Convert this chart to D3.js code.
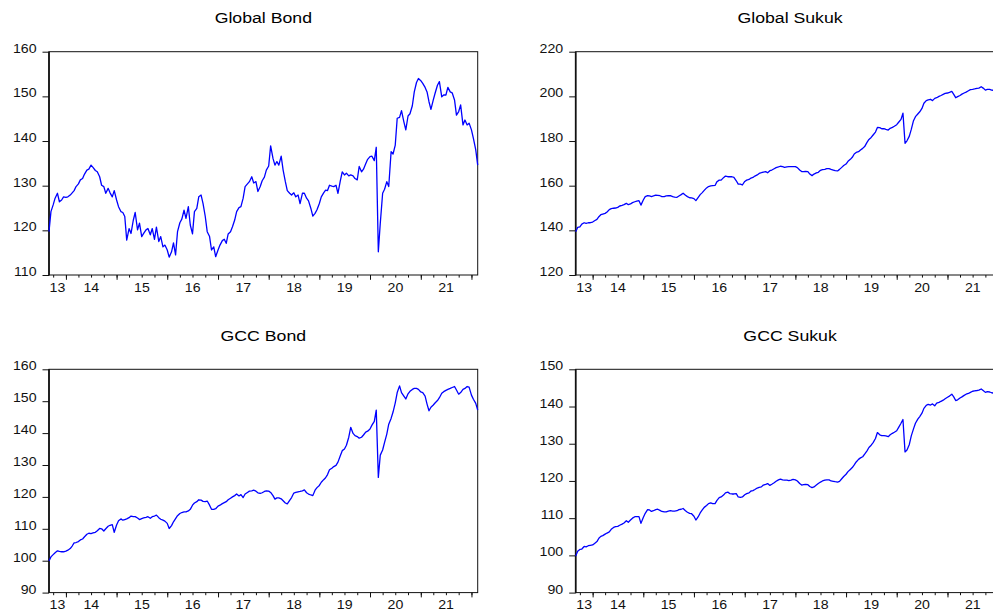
<!DOCTYPE html>
<html>
<head>
<meta charset="utf-8">
<script src="https://cdn.jsdelivr.net/npm/d3@7"></script>
<style>
  html, body { margin: 0; padding: 0; background: #fff; }
  svg { display: block; }
  text { font-family: "Liberation Sans", Arial, sans-serif; fill: #111; }
</style>
</head>
<body>
<svg id="chart" width="993" height="612"></svg>
<script>
// Semi-monthly observation dates (1st and 15th), Sep 2013 - Feb 2022
const startDate = Date.UTC(2013, 8, 1);
const endDate = Date.UTC(2022, 1, 15);
const dates = [];
for (let d = new Date(startDate); d <= endDate; d = new Date(Date.UTC(d.getUTCFullYear(), d.getUTCMonth() + 1, 1))) {
  dates.push(new Date(d));
  dates.push(new Date(Date.UTC(d.getUTCFullYear(), d.getUTCMonth(), 15)));
}

const panelTitles = ["Global Bond", "Global Sukuk", "GCC Bond", "GCC Sukuk"];

const globalBond = [
  119.7,124.2,125.7,127.2,128.3,126.4,126.8,127.5,127.4,127.5,
  127.9,128.4,128.9,129.8,130.4,131.3,131.6,132.6,133.5,133.7,
  134.6,134.1,133.4,133.1,132.0,130.1,129.8,128.3,129.4,128.4,
  127.5,128.9,126.8,125.3,124.2,124.0,123.1,117.8,120.4,119.3,
  122.2,124.0,120.1,121.6,118.6,119.3,120.1,120.4,119.0,120.4,
  118.0,120.7,117.5,118.6,116.3,116.7,115.6,114.0,115.2,117.2,
  114.5,119.7,121.7,122.5,124.5,122.7,125.3,121.2,119.2,124.2,
  124.9,127.5,127.9,126.0,123.1,119.7,118.6,115.6,116.3,114.1,
  115.6,116.7,117.7,118.0,117.1,119.2,119.7,120.8,122.3,124.2,
  125.1,125.3,127.2,129.8,130.4,130.9,132.0,130.6,130.9,128.7,
  129.8,131.1,131.9,133.5,134.4,138.9,136.1,134.6,135.4,134.6,
  136.6,133.5,130.9,128.9,128.3,127.9,128.4,127.5,127.9,126.0,
  128.3,128.3,127.2,126.6,124.9,123.2,123.8,124.6,126.0,127.5,
  128.4,129.0,128.9,130.1,129.9,129.8,130.1,128.3,131.1,133.1,
  132.4,132.8,132.2,132.4,132.2,131.6,131.3,134.3,133.1,133.7,
  134.9,135.9,136.5,136.6,135.6,138.6,115.2,121.6,128.3,129.2,
  130.9,129.8,137.6,137.1,139.1,145.1,145.3,146.8,144.3,142.5,
  145.6,146.1,147.9,151.0,153.1,154.0,153.5,152.9,152.0,151.0,
  148.8,147.1,149.2,150.8,152.5,153.3,149.9,150.3,150.3,152.0,
  151.0,150.8,149.2,145.8,146.6,148.1,143.6,144.7,143.6,144.0,
  142.5,140.6,138.0,134.6
];

const globalSukuk = [
  139.4,141.3,141.6,142.8,143.4,143.1,143.4,143.4,143.7,144.3,
  144.9,146.1,147.0,147.3,147.6,148.2,149.3,149.7,149.9,150.0,
  150.3,150.9,151.2,151.5,152.1,151.5,151.8,152.4,152.8,153.1,
  153.3,151.3,153.6,155.1,155.5,155.4,155.1,155.4,155.8,155.7,
  155.5,155.1,155.1,155.4,155.5,155.5,155.1,154.9,154.8,155.4,
  156.0,156.6,155.7,155.1,154.6,154.5,154.2,153.3,154.8,156.0,
  156.9,157.9,159.0,159.6,159.9,160.0,160.1,161.8,162.5,162.5,
  163.6,164.3,164.0,164.0,164.0,163.7,162.2,160.7,160.7,160.3,
  161.9,162.5,162.8,163.4,163.7,164.3,164.8,165.5,165.8,166.1,
  166.3,165.8,166.7,167.0,167.6,168.1,168.4,168.7,168.5,168.2,
  168.4,168.5,168.5,168.5,168.5,168.1,167.0,166.3,166.3,166.4,
  166.3,165.2,164.5,165.2,165.7,166.0,166.9,167.2,167.3,167.6,
  167.6,167.3,167.0,166.7,166.6,167.3,168.2,169.0,169.7,170.9,
  171.8,172.7,174.2,174.9,175.2,176.0,176.7,177.5,179.4,180.7,
  181.6,182.7,184.0,186.1,186.0,185.5,185.5,185.2,184.9,185.7,
  186.1,186.6,187.3,188.4,189.7,192.5,179.0,180.1,182.2,185.2,
  189.1,190.9,192.1,193.1,194.6,196.9,198.1,198.4,198.7,198.1,
  199.1,199.4,200.0,200.4,200.9,201.3,201.5,201.8,202.2,200.9,
  199.4,199.9,200.4,201.0,201.5,201.9,202.5,203.0,203.1,203.3,
  203.6,203.7,204.3,203.7,202.8,203.1,203.1,202.8,202.7,202.5,
  202.6,202.2,201.6,201.0
];

const gccBond = [
  99.9,101.2,101.9,102.5,103.1,102.9,102.8,102.8,103.0,103.3,
  103.8,104.6,105.6,105.7,106.0,106.5,106.8,107.5,108.3,108.6,
  108.5,108.7,108.9,109.4,110.1,110.0,109.3,110.0,110.8,111.1,
  111.3,108.9,111.2,112.5,113.1,112.7,112.9,113.1,113.5,114.0,
  113.8,113.8,113.4,112.9,113.2,113.4,113.6,113.8,113.3,113.8,
  114.0,114.3,113.5,113.0,112.7,112.4,111.7,110.1,111.0,112.2,
  113.2,114.1,114.8,115.1,115.3,115.3,115.6,116.1,117.4,118.1,
  118.5,119.1,119.0,118.6,118.5,118.7,117.4,116.1,116.1,116.3,
  117.1,117.4,117.9,118.2,118.5,119.1,119.6,120.0,120.4,120.9,
  120.3,120.7,119.8,120.9,121.4,121.8,121.9,122.1,121.8,121.3,
  121.1,121.3,121.7,121.9,121.8,121.4,120.4,119.3,119.7,119.7,
  119.4,118.8,118.1,117.8,118.9,119.8,121.2,121.4,121.6,121.7,
  121.9,122.2,121.3,120.9,120.6,120.4,122.1,122.9,123.6,124.6,
  125.4,126.0,127.0,128.5,129.0,129.5,129.9,130.9,132.9,134.5,
  135.0,136.2,138.7,141.8,139.9,139.2,138.9,138.4,138.7,139.4,
  140.3,140.6,141.3,142.5,143.7,147.2,126.1,133.1,134.7,137.1,
  139.7,142.8,144.6,146.6,149.5,152.7,154.8,152.7,151.6,150.7,
  152.3,153.1,153.7,154.0,154.0,153.7,152.9,152.7,151.6,149.1,
  147.0,148.1,148.8,149.5,150.2,151.1,152.5,153.0,153.4,153.7,
  154.0,154.3,154.6,153.5,152.2,152.7,153.7,154.0,154.6,154.4,
  151.9,150.6,149.3,147.2
];

const gccSukuk = [
  99.8,101.1,101.6,101.7,102.4,102.3,102.6,102.7,102.8,103.2,
  103.7,104.6,105.1,105.3,105.7,106.0,106.3,107.0,107.5,107.7,
  107.8,108.1,108.4,108.7,109.3,108.9,109.5,110.0,110.4,110.4,
  110.4,108.6,110.2,111.3,112.3,112.2,111.8,112.0,112.3,112.4,
  112.1,111.8,111.7,111.7,111.9,112.0,111.9,111.9,112.0,112.3,
  112.4,112.6,112.0,111.6,111.3,111.2,110.5,109.5,110.4,111.4,
  112.2,112.9,113.4,113.9,114.1,113.9,113.9,114.8,115.5,115.7,
  116.2,116.8,117.0,116.6,116.5,116.5,116.6,115.7,115.6,115.7,
  116.3,116.6,116.8,117.3,117.4,117.7,118.1,118.3,118.4,118.9,
  119.1,119.3,118.8,119.1,119.5,119.9,120.3,120.5,120.3,120.2,
  120.2,120.1,120.2,120.4,120.3,120.0,119.3,118.9,119.0,119.1,
  119.0,118.5,118.2,118.4,118.9,119.3,119.7,120.0,120.2,120.3,
  120.3,120.0,119.9,119.8,119.7,119.9,120.6,121.2,121.8,122.5,
  123.1,123.6,124.3,125.1,125.8,126.2,126.5,127.2,128.1,129.0,
  129.6,130.3,131.4,133.0,132.4,132.2,132.2,132.1,131.9,132.4,
  132.8,133.1,133.5,134.4,135.5,136.5,127.8,128.3,129.8,132.1,
  134.0,135.5,136.6,137.3,138.2,139.5,140.3,140.6,140.4,140.7,
  140.2,140.9,141.1,141.4,141.7,142.1,142.5,142.8,143.3,142.6,
  141.6,141.8,142.3,142.6,143.0,143.3,143.5,143.8,144.1,144.2,
  144.3,144.4,144.7,144.3,143.8,144.0,143.9,143.7,143.6,143.4,
  143.5,143.2,142.8,142.5
];

// Y-axis tick values for each panel
const yTicksGlobalBond = [110, 120, 130, 140, 150, 160];
const yTicksGlobalSukuk = [120, 140, 160, 180, 200, 220];
const yTicksGccBond = [90, 100, 110, 120, 130, 140, 150, 160];
const yTicksGccSukuk = [90, 100, 110, 120, 130, 140, 150];

// Year labels on the time axis
const yearLabels = ["13", "14", "15", "16", "17", "18", "19", "20", "21"];

const panels = [
  { title: panelTitles[0], values: globalBond,  ticks: yTicksGlobalBond,  left: 49,    top: 51.7 },
  { title: panelTitles[1], values: globalSukuk, ticks: yTicksGlobalSukuk, left: 575.7, top: 51.7 },
  { title: panelTitles[2], values: gccBond,     ticks: yTicksGccBond,     left: 49,    top: 369.3 },
  { title: panelTitles[3], values: gccSukuk,    ticks: yTicksGccSukuk,    left: 575.7, top: 369.3 }
];

const plotW = 428.7, plotH = 223.3;
const SX = 1.18; // horizontal text stretch
const svg = d3.select("#chart");

function stretched(g, x, y, str, anchor, size) {
  return g.append("text")
    .attr("transform", `translate(${x},${y}) scale(${SX},1)`)
    .attr("text-anchor", anchor)
    .style("font-size", size + "px")
    .text(str);
}

panels.forEach(p => {
  const g = svg.append("g");
  const x0 = p.left, x1 = p.left + plotW, y0 = p.top, y1 = p.top + plotH;

  const x = d3.scaleUtc().domain([dates[0], dates[dates.length - 1]]).range([x0, x1]);
  const y = d3.scaleLinear().domain(d3.extent(p.ticks)).range([y1, y0]);

  // title
  stretched(g, (x0 + x1) / 2, y0 - 28.5, p.title, "middle", 15).style("fill", "#000");

  // y axis ticks and labels
  const yAxis = g.append("g").attr("transform", `translate(${x0},0)`)
    .call(d3.axisLeft(y).tickValues(p.ticks).tickSize(6.5).tickSizeOuter(0).tickFormat(d3.format("d")));
  yAxis.select(".domain").remove();
  yAxis.selectAll("line").attr("stroke", "#111");
  yAxis.selectAll("text")
    .attr("x", null).attr("dy", null)
    .attr("transform", `translate(-12.5,0.6) scale(${SX},1)`)
    .style("font-size", "12px")
    .attr("fill", "#111")
    .style("font-family", '"Liberation Sans", Arial, sans-serif');

  // quarterly minor ticks and yearly major ticks
  const quarters = d3.utcMonth.every(3).range(dates[0], dates[dates.length - 1]);
  const years = d3.utcYear.range(dates[0], dates[dates.length - 1]);
  const xMinor = g.append("g").attr("transform", `translate(0,${y1})`)
    .call(d3.axisBottom(x).tickValues(quarters).tickSize(2.6).tickSizeOuter(0).tickFormat(""));
  xMinor.select(".domain").remove();
  xMinor.selectAll("line").attr("stroke", "#111");
  const xMajor = g.append("g").attr("transform", `translate(0,${y1})`)
    .call(d3.axisBottom(x).tickValues(years).tickSize(4.8).tickSizeOuter(0).tickFormat(""));
  xMajor.select(".domain").remove();
  xMajor.selectAll("line").attr("stroke", "#111");

  // year labels, centred within each year's span of the axis
  yearLabels.forEach(lbl => {
    const yr = 2000 + (+lbl);
    const a = Math.max(x(new Date(Date.UTC(yr, 0, 1))), x0);
    const b = Math.min(x(new Date(Date.UTC(yr + 1, 0, 1))), x1);
    const cx = Math.max((a + b) / 2, x0 + 4);
    stretched(g, cx, y1 + 16.6, lbl, "middle", 12);
  });

  // frame
  g.append("rect").attr("x", x0).attr("y", y0).attr("width", plotW).attr("height", plotH)
    .attr("fill", "none").attr("stroke", "#111").attr("stroke-width", 1);
  g.append("line").attr("x1", x0).attr("x2", x0).attr("y1", y0).attr("y2", y1 + 0.5)
    .attr("stroke", "#111").attr("stroke-width", 1.7);

  // series line
  const line = d3.line().x((d, i) => x(dates[i])).y(d => y(d));
  g.append("path").datum(p.values)
    .attr("d", line)
    .attr("fill", "none")
    .attr("stroke", "#0000ff")
    .attr("stroke-width", 1.3)
    .attr("stroke-linejoin", "round");
});
</script>
</body>
</html>
